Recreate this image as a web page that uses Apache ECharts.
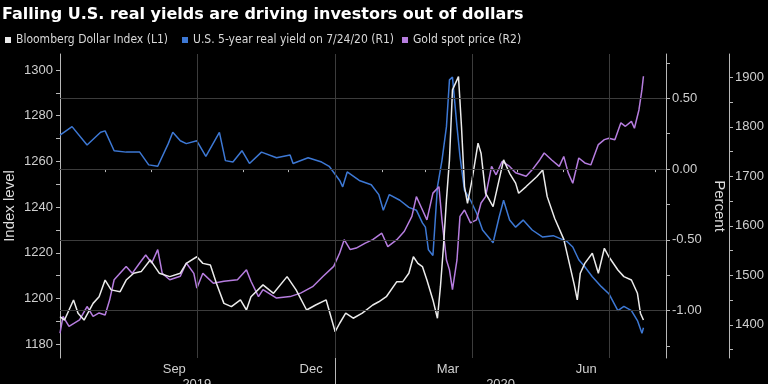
<!DOCTYPE html>
<html><head><meta charset="utf-8">
<script src="https://cdn.jsdelivr.net/npm/echarts@6/dist/echarts.min.js"></script>
<style>html,body{margin:0;padding:0;background:#000;}#c{width:768px;height:384px;}</style>
</head><body><div id="c"></div>
<script>
// ---- data ----
const dollarDates = ['2019-07-02','2019-07-05','2019-07-11','2019-07-14','2019-07-18','2019-07-24','2019-07-28','2019-08-01','2019-08-05','2019-08-11','2019-08-15','2019-08-20','2019-08-25','2019-08-31','2019-09-06','2019-09-13','2019-09-20','2019-09-24','2019-10-01','2019-10-05','2019-10-10','2019-10-14','2019-10-19','2019-10-24','2019-10-30','2019-11-03','2019-11-06','2019-11-14','2019-11-21','2019-11-30','2019-12-06','2019-12-13','2019-12-19','2019-12-26','2020-01-01','2020-01-04','2020-01-08','2020-01-13','2020-01-19','2020-01-26','2020-01-30','2020-02-04','2020-02-11','2020-02-15','2020-02-19','2020-02-22','2020-02-25','2020-02-28','2020-03-02','2020-03-06','2020-03-09','2020-03-11','2020-03-13','2020-03-15','2020-03-17','2020-03-19','2020-03-23','2020-03-25','2020-03-27','2020-03-29','2020-04-01','2020-04-05','2020-04-07','2020-04-10','2020-04-15','2020-04-18','2020-04-22','2020-04-26','2020-04-30','2020-05-02','2020-05-07','2020-05-14','2020-05-18','2020-05-21','2020-05-26','2020-06-01','2020-06-04','2020-06-08','2020-06-10','2020-06-12','2020-06-15','2020-06-20','2020-06-24','2020-06-28','2020-07-01','2020-07-07','2020-07-11','2020-07-16','2020-07-20','2020-07-22','2020-07-24'];
const dollarValues = [1192.1,1190.6,1199.4,1193.6,1190.6,1197.9,1200.8,1208.1,1203.8,1203.0,1208.1,1211.1,1211.8,1216.9,1211.1,1209.6,1211.1,1215.4,1218.3,1215.4,1214.7,1206.7,1197.9,1196.5,1199.4,1195.0,1200.8,1206.0,1202.3,1209.6,1203.8,1195.0,1197.2,1199.4,1185.5,1189.2,1193.6,1191.4,1193.6,1197.2,1198.6,1200.8,1207.4,1207.4,1211.1,1218.3,1215.4,1214.0,1208.1,1199.4,1191.4,1205.2,1222.7,1243.2,1260.7,1291.3,1297.1,1275.2,1249.0,1241.7,1251.9,1268.0,1263.6,1246.1,1240.2,1249.0,1260.7,1254.8,1250.5,1246.1,1249.0,1253.3,1256.3,1244.6,1235.0,1226.0,1217.5,1206.0,1199.4,1211.1,1215.4,1219.8,1211.1,1222.0,1218.3,1212.5,1209.6,1208.1,1202.3,1193.6,1190.6];

const yieldDates = ['2019-07-02','2019-07-10','2019-07-20','2019-07-29','2019-08-01','2019-08-07','2019-08-15','2019-08-24','2019-08-30','2019-09-05','2019-09-12','2019-09-15','2019-09-20','2019-09-24','2019-10-01','2019-10-07','2019-10-16','2019-10-20','2019-10-25','2019-10-31','2019-11-05','2019-11-13','2019-11-23','2019-12-02','2019-12-04','2019-12-14','2019-12-23','2019-12-28','2020-01-04','2020-01-06','2020-01-09','2020-01-17','2020-01-25','2020-01-30','2020-02-02','2020-02-06','2020-02-13','2020-02-19','2020-02-24','2020-02-28','2020-03-01','2020-03-03','2020-03-06','2020-03-09','2020-03-12','2020-03-15','2020-03-17','2020-03-19','2020-03-22','2020-03-24','2020-03-27','2020-03-31','2020-04-04','2020-04-08','2020-04-15','2020-04-19','2020-04-22','2020-04-26','2020-04-30','2020-05-05','2020-05-11','2020-05-18','2020-05-25','2020-06-03','2020-06-07','2020-06-11','2020-06-15','2020-06-20','2020-06-26','2020-07-01','2020-07-07','2020-07-11','2020-07-16','2020-07-20','2020-07-23','2020-07-24'];
const yieldValues = [0.24,0.30,0.17,0.26,0.27,0.13,0.12,0.12,0.03,0.02,0.18,0.26,0.20,0.18,0.20,0.09,0.26,0.06,0.05,0.13,0.04,0.12,0.08,0.10,0.04,0.08,0.05,0.02,-0.08,-0.125,-0.02,-0.08,-0.11,-0.18,-0.29,-0.18,-0.22,-0.27,-0.29,-0.38,-0.41,-0.57,-0.61,-0.125,0.06,0.30,0.63,0.65,0.30,0.09,-0.15,-0.22,-0.31,-0.43,-0.52,-0.34,-0.22,-0.36,-0.41,-0.36,-0.43,-0.48,-0.47,-0.51,-0.55,-0.64,-0.69,-0.76,-0.83,-0.88,-1.00,-0.97,-1.00,-1.07,-1.16,-1.12];

const goldDates = ['2019-07-02','2019-07-04','2019-07-08','2019-07-15','2019-07-20','2019-07-24','2019-07-28','2019-08-01','2019-08-04','2019-08-07','2019-08-10','2019-08-15','2019-08-19','2019-08-24','2019-08-28','2019-09-01','2019-09-05','2019-09-08','2019-09-13','2019-09-20','2019-09-24','2019-09-29','2019-10-01','2019-10-05','2019-10-12','2019-10-19','2019-10-28','2019-11-03','2019-11-06','2019-11-11','2019-11-14','2019-11-23','2019-12-02','2019-12-09','2019-12-17','2019-12-24','2019-12-31','2020-01-04','2020-01-07','2020-01-11','2020-01-15','2020-01-21','2020-01-26','2020-02-01','2020-02-05','2020-02-11','2020-02-16','2020-02-21','2020-02-24','2020-02-27','2020-03-02','2020-03-06','2020-03-10','2020-03-12','2020-03-15','2020-03-17','2020-03-19','2020-03-22','2020-03-24','2020-03-27','2020-03-31','2020-04-04','2020-04-07','2020-04-10','2020-04-14','2020-04-17','2020-04-21','2020-04-26','2020-04-30','2020-05-07','2020-05-11','2020-05-16','2020-05-19','2020-05-24','2020-05-29','2020-06-01','2020-06-04','2020-06-07','2020-06-11','2020-06-15','2020-06-19','2020-06-24','2020-06-28','2020-07-01','2020-07-05','2020-07-09','2020-07-12','2020-07-16','2020-07-18','2020-07-21','2020-07-23','2020-07-24'];
const goldValues = [1383,1417,1397,1410,1437,1417,1424,1420,1450,1491,1501,1518,1504,1525,1541,1525,1552,1504,1491,1498,1525,1504,1474,1504,1484,1488,1491,1511,1488,1457,1471,1454,1457,1464,1477,1498,1518,1545,1572,1552,1555,1565,1572,1585,1558,1572,1589,1619,1659,1639,1612,1666,1679,1612,1531,1511,1471,1531,1619,1632,1606,1612,1646,1659,1720,1703,1730,1720,1707,1700,1713,1733,1747,1733,1720,1740,1707,1686,1737,1727,1723,1764,1774,1777,1774,1808,1801,1811,1797,1834,1875,1902];

// axis ticks / labels
const monthTicks = ['2019-08-01','2019-09-01','2019-10-01','2019-11-01','2019-12-01','2020-01-01','2020-02-01','2020-03-01','2020-04-01','2020-05-01','2020-06-01','2020-07-01','2020-08-01'];
const monthLabelDates = ['2019-09-16','2019-12-16','2020-03-16','2020-06-16'];
const monthLabels = ['Sep','Dec','Mar','Jun'];
const yearLabelDates = ['2019-10-01','2020-04-20'];
const yearLabels = ['2019','2020'];
const yearBreak = ['2020-01-01'];
const quarterLines = ['2019-10-01','2020-01-01','2020-04-01','2020-07-01'];
const leftTicks = [1180,1190,1200,1210,1220,1230,1240,1250,1260,1270,1280,1290,1300];
const leftLabels = [1180,1200,1220,1240,1260,1280,1300];
const r1Ticks = [-1.25,-1.0,-0.75,-0.5,-0.25,0,0.25,0.5,0.75];
const r1Labels = [-1.0,-0.5,0,0.5];
const r2Ticks = [1350,1400,1450,1500,1550,1600,1650,1700,1750,1800,1850,1900];
const r2Labels = [1400,1500,1600,1700,1800,1900];

const T = s => { const p = s.split('-').map(Number); return Date.UTC(p[0], p[1] - 1, p[2]); };
const pair = (d, v) => d.map((x, i) => [T(x), v[i]]);

const axisCol = '#b8b8b8', labCol = '#cfcfcf', gridCol = '#3c3c3c';
const lab = {color: labCol, fontSize: 13, fontFamily: 'Liberation Sans, Arial, sans-serif'};

const chart = echarts.init(document.getElementById('c'), null, {renderer: 'canvas'});
const xMin = T('2019-07-02'), xMax = T('2020-08-08');
const mlT = monthLabelDates.map(T), ylT = yearLabelDates.map(T);

chart.setOption({
  backgroundColor: '#000',
  animation: false,
  title: {
    text: 'Falling U.S. real yields are driving investors out of dollars',
    left: 2, top: 7, padding: 0,
    textStyle: {color: '#ffffff', fontSize: 16, fontWeight: 'bold', fontFamily: 'DejaVu Sans, sans-serif'}
  },
  legend: [
    {data: ['Bloomberg Dollar Index (L1)'], left: 5},
    {data: ['U.S. 5-year real yield on 7/24/20 (R1)'], left: 182},
    {data: ['Gold spot price (R2)'], left: 402}
  ].map(l => Object.assign({
    top: 34, padding: 0, icon: 'rect', itemWidth: 6, itemHeight: 6, itemGap: 0,
    textStyle: {color: '#d8d8d8', fontSize: 12, fontFamily: 'Liberation Sans Narrow, DejaVu Sans Condensed, sans-serif'}
  }, l)),
  grid: {left: 60, right: 102, top: 54, bottom: 26, containLabel: false, outerBoundsMode: 'none'},
  xAxis: [
    {
      type: 'value', min: xMin, max: xMax, position: 'bottom', scale: true,
      axisLine: {lineStyle: {color: axisCol, width: 1}},
      axisTick: {customValues: monthTicks.map(T), length: 3, lineStyle: {color: axisCol}},
      axisLabel: Object.assign({customValues: mlT, margin: 5,
        formatter: v => { const i = mlT.indexOf(v); return i >= 0 ? monthLabels[i] : ''; }}, lab),
      splitLine: {show: false}
    },
    {
      type: 'value', min: xMin, max: xMax, position: 'bottom', scale: true,
      axisLine: {show: false},
      axisTick: {customValues: yearBreak.map(T), length: 30, lineStyle: {color: axisCol}},
      axisLabel: Object.assign({customValues: ylT, margin: 20,
        formatter: v => { const i = ylT.indexOf(v); return i >= 0 ? yearLabels[i] : ''; }}, lab),
      splitLine: {show: false}
    }
  ],
  yAxis: [
    {
      type: 'value', min: 1174, max: 1307, position: 'left',
      name: 'Index level', nameLocation: 'middle', nameGap: 43, nameMoveOverlap: false,
      nameTextStyle: {color: '#dcdcdc', fontSize: 15, fontFamily: 'Liberation Sans, Arial, sans-serif'},
      axisLine: {show: true, lineStyle: {color: axisCol}},
      axisTick: {show: true, customValues: leftTicks, length: 4, lineStyle: {color: axisCol}},
      axisLabel: Object.assign({customValues: leftLabels, margin: 7, formatter: v => String(v)}, lab),
      splitLine: {show: false}
    },
    {
      type: 'value', min: -1.334, max: 0.813, position: 'right', offset: 0,
      name: 'Percent', nameLocation: 'middle', nameGap: 46, nameRotate: -90, nameMoveOverlap: false,
      nameTextStyle: {color: '#dcdcdc', fontSize: 15, fontFamily: 'Liberation Sans, Arial, sans-serif'},
      axisLine: {show: true, lineStyle: {color: axisCol}},
      axisTick: {show: true, customValues: r1Ticks, length: 4, lineStyle: {color: axisCol}},
      axisLabel: Object.assign({customValues: r1Labels, margin: 6, formatter: v => v.toFixed(2)}, lab),
      splitLine: {show: false}
    },
    {
      type: 'value', min: 1333, max: 1947, position: 'right', offset: 63,
      axisLine: {show: true, lineStyle: {color: axisCol}},
      axisTick: {show: true, customValues: r2Ticks, length: 4, lineStyle: {color: axisCol}},
      axisLabel: Object.assign({customValues: r2Labels, margin: 6, formatter: v => String(v)}, lab),
      splitLine: {show: false}
    }
  ],
  series: [
    {
      name: 'U.S. 5-year real yield on 7/24/20 (R1)', type: 'line', xAxisIndex: 0, yAxisIndex: 1,
      data: pair(yieldDates, yieldValues), showSymbol: false, symbol: 'none',
      lineStyle: {color: '#3d78d4', width: 1.5}, itemStyle: {color: '#3d78d4'},
      markLine: {
        silent: true, symbol: 'none', label: {show: false},
        lineStyle: {color: gridCol, width: 1, type: 'solid'},
        data: r1Labels.map(v => ({yAxis: v})).concat(quarterLines.map(d => ({xAxis: T(d)})))
      }
    },
    {
      name: 'Gold spot price (R2)', type: 'line', xAxisIndex: 0, yAxisIndex: 2,
      data: pair(goldDates, goldValues), showSymbol: false, symbol: 'none',
      lineStyle: {color: '#b67ddf', width: 1.5}, itemStyle: {color: '#b67ddf'}
    },
    {
      name: 'Bloomberg Dollar Index (L1)', type: 'line', xAxisIndex: 0, yAxisIndex: 0,
      data: pair(dollarDates, dollarValues), showSymbol: false, symbol: 'none',
      lineStyle: {color: '#ebebeb', width: 1.5}, itemStyle: {color: '#ebebeb'}
    }
  ]
});
</script></body></html>
